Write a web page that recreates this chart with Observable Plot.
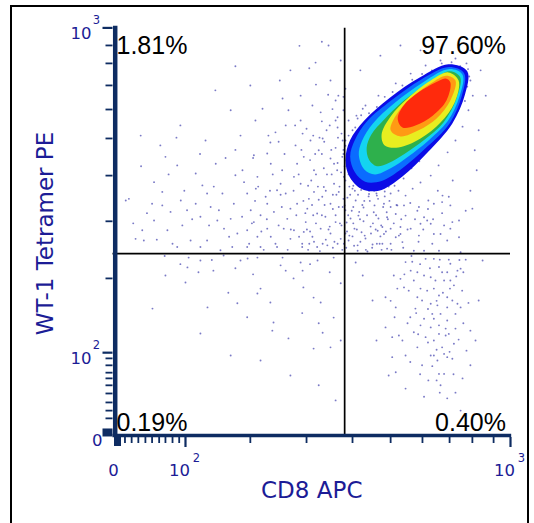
<!DOCTYPE html>
<html><head><meta charset="utf-8">
<script src="https://cdn.jsdelivr.net/npm/d3@7"></script>
<script src="https://cdn.jsdelivr.net/npm/@observablehq/plot@0.6"></script>
<style>
body{margin:0;background:#fff;}
#wrap{position:relative;width:534px;height:523px;overflow:hidden;}
#frame{position:absolute;left:10px;top:5px;width:515px;height:560px;border:2px solid #000;}
#chart{position:absolute;left:0;top:0;}
</style></head><body>
<div id="wrap"><div id="frame"></div><div id="chart"></div></div>
<script>
// All positions are display channels (0..1000) of the logicle-scaled axes.
const quadrantText = ["1.81%", "97.60%", "0.19%", "0.40%"];
const gateXch = 578;
const gateYch = 446;
const xMinorTicks = [19,36,53,71,88,106,122,140,157,338,481,598,695,776,845,903,957];
const xMajorTicks = [173, 1000];
const xMajorExp = ["2", "3"];
const yMinorTicks = [42,61,81,103,123,140,154,172,189,385,525,637,728,799,858,912,956];
const yMajorTicks = [203, 999];
const yMajorExp = ["2", "3"];
const zeroLabel = "0";
const xTitle = "CD8 APC";
const yTitle = "WT-1 Tetramer PE";

// density contour levels of the main population (outer -> inner)
const levelPolygons = [
 [[890,893],[884,835],[852,765],[790,695],[725,635],[665,600],[620,605],[590,635],[580,676],[592,724],[628,772],[693,828],[770,878],[842,910]],
 [[882,888],[876,832],[845,765],[785,705],[725,655],[672,624],[630,622],[604,645],[592,684],[604,724],[635,770],[698,822],[772,872],[843,903]],
 [[878,884],[870,830],[840,770],[790,722],[740,684],[695,655],[655,640],[628,652],[614,688],[622,722],[650,765],[705,815],[778,866],[845,898]],
 [[872,878],[862,825],[830,768],[780,724],[730,690],[690,668],[660,660],[640,676],[634,705],[646,738],[678,774],[725,818],[790,862],[845,893]],
 [[868,870],[858,816],[822,767],[771,728],[715,706],[680,711],[672,738],[695,782],[738,826],[797,870],[842,890]],
 [[860,870],[847,821],[812,777],[766,748],[720,733],[695,748],[708,784],[746,826],[797,863],[837,882]],
 [[847,865],[837,821],[802,784],[758,760],[725,755],[713,777],[728,809],[766,841],[809,865],[835,875]]
];
const levelColors = ["#0c0ce6", "#0a6cff", "#14d4f0", "#2eb04c", "#e8ee20", "#ff9a14", "#ff2a0c"];

// sparse events outside the dense core
const events = [
[181,436],[211,429],[178,412],[122,392],[173,375],[229,314],[89,311],[211,250],[282,350],[305,324],[356,348],[364,360],[389,326],[397,277],[394,257],[435,238],[448,385],[471,404],[473,363],[499,338],[517,326],[512,275],[522,252],[550,289],[568,373],[568,233],[499,213],[542,216],[466,424],[509,429],[550,436],[415,417],[428,404],[331,434],[356,436],[270,441],[313,429],[206,400],[244,404],[364,184],[512,123],[555,86],[440,147],[288,196],
[120,440],[160,420],[240,430],[300,410],[345,395],[420,436],[490,420],[540,400],[470,300],[330,290],
[733,425],[750,426],[784,433],[805,433],[820,431],[843,431],[847,421],[873,409],[886,431],[818,413],[826,400],[839,400],[865,404],[763,400],[746,404],[780,392],[797,388],[809,380],[831,380],[847,380],[856,368],[877,355],[754,380],[720,384],[703,392],[729,363],[741,355],[771,360],[788,355],[805,360],[818,343],[839,339],[852,331],[865,323],[873,314],[763,339],[775,331],[797,323],[814,319],[839,314],[758,311],[708,314],[682,339],[801,298],[822,298],[860,298],[780,286],[805,286],[839,282],[771,270],[797,265],[818,270],[835,262],[860,262],[843,249],[818,249],[754,253],[716,245],[699,241],[725,233],[784,241],[805,233],[835,245],[826,216],[856,225],[763,216],[733,196],[797,196],[831,200],[839,192],[814,184],[852,188],[775,172],[801,170],[831,151],[818,151],[708,155],[690,147],[805,196],[682,265],[699,192],
[822,123],[860,105],[791,135],[878,140],[839,91],[733,115],[898,172],[888,208],[898,257],[649,331],[624,392],[606,424],[659,233],[873,61],[919,331],[929,429],[911,233],
[745,290],[760,300],[790,310],[812,330],[828,350],[846,360],[862,390],[880,400],[870,430],[795,410],[770,420],[748,440],[730,395],[712,360],[695,330],[705,290],[738,275],[765,248],[790,228],[812,210],[845,205],[868,235],[855,150],[812,135],[770,150],[745,180],[880,275],[893,325],[820,105],[780,95],
[678,568],[695,560],[712,564],[729,564],[767,560],[805,568],[826,572],[847,564],[903,556],[686,535],[708,543],[733,539],[780,535],[788,527],[771,519],[674,511],[695,507],[720,511],[746,507],[797,519],[831,515],[852,523],[869,527],[678,494],[708,486],[720,494],[767,490],[805,494],[822,494],[847,507],[869,486],[695,470],[725,474],[754,453],[780,453],[801,470],[839,478],[873,449],[818,453],[674,470],[686,458],
[583,674],[590,645],[598,605],[585,583],[606,576],[596,551],[613,539],[583,522],[603,507],[621,498],[588,478],[611,466],[631,483],[644,512],[626,559],[639,586],[654,564],[664,532],[649,468],[669,488],[616,610],[634,615],[580,625],[593,699],[580,723],[598,748],[588,772],[608,784],[624,801],[575,797],[659,593],[680,586],[695,593],[715,600],[611,453],[636,451],[598,488],[626,525],[652,547],[578,564],[593,532],[662,502],[685,547],[733,588],[751,605],[771,620],[797,637],[817,662],[840,694],[860,723],[878,757],[893,797],[904,833],[898,870],[888,912],[860,924],[822,919],[784,907],[746,887],[708,863],[664,833],[631,809],[611,777],[909,699],[919,748],[914,650],[898,600],[886,551],[853,625],[827,588],[791,576],[763,551],
[669,931],[720,956],[618,895],[771,944],[898,944],[924,895],[937,833],
[582,460],[590,490],[600,520],[615,548],[628,575],[640,600],[600,560],[612,590],[625,625],[590,610],[605,650],[620,700],[640,740],[650,520],[660,470],[672,455],[618,475],[632,455],[645,495],[658,540],
[584,500],[587,540],[592,590],[596,630],[602,465],[604,600],[609,505],[617,530],[620,640],[623,565],[629,490],[635,540],[638,625],[642,575],[648,460],[653,600],[657,505],[663,580],[667,470],[671,515],[676,560],[683,500],[688,530],[692,575],[697,455],[703,520],[710,565],[716,490],[722,530],[727,460],[738,505],[745,570],[757,530],[766,475],[778,505],[790,555],[803,530],[815,600],[826,545],[843,585],
[895,880],[890,855],[884,820],[865,795],[850,770],[828,740],[810,722],[790,700],[768,672],[748,655],[728,630],[705,612],[680,598],[660,588],[640,592],[620,602],[600,612],[588,640],[578,660],[575,690],[580,710],[588,735],[605,755],[620,785],[640,790],[660,805],[680,830],[700,842],[725,858],[750,872],[775,886],[800,895],[825,912],[850,915],[872,905],[892,898],[612,700],[600,660],[640,610],[690,610],
[21,576],[29,580],[93,621],[114,597],[88,568],[46,482],[67,478],[63,503],[93,527],[114,564],[135,548],[122,683],[152,662],[161,576],[165,515],[186,478],[199,642],[199,568],[216,613],[211,536],[228,593],[233,515],[228,478],[250,666],[258,552],[254,527],[271,507],[284,487],[292,462],[288,531],[300,638],[296,568],[317,536],[322,621],[330,593],[339,552],[347,523],[356,487],[364,462],[377,585],[381,507],[390,487],[398,548],[406,601],[419,650],[428,593],[432,531],[440,482],[449,503],[457,568],[466,617],[470,462],[479,523],[487,580],[496,487],[500,650],[508,544],[517,507],[525,609],[534,466],[542,568],[551,666],[555,523],[563,597],[568,482],[576,634],[580,552],[572,683],[542,679],[474,683],[381,691],[347,687],[415,617],[449,634],[483,556],[508,462],[406,462],[330,462],[305,495],[262,454],[211,462],[152,462],[127,503],[177,552],[237,560],[267,593],[356,634],[390,666],[457,666],[521,585],[551,617],[580,495],[559,650],[364,540],[423,507],[462,487],[500,597],[529,536],[563,560],[542,495],[440,556],[474,499],[381,568],[330,503],
[40,520],[75,545],[100,480],[140,470],[170,600],[190,530],[210,690],[245,610],[130,640],[60,660],[150,730],[275,680],
[470,470],[485,455],[500,475],[515,452],[530,480],[548,460],[560,470],[572,455],[490,500],[505,520],[520,540],[540,512],[555,540],[570,515],[478,545],[495,565],[512,578],[530,600],[548,590],[565,610],[575,580],[485,612],[505,640],[525,655],[545,640],[560,668],[575,700],[520,690],[490,675],[555,705],[570,740],[540,760],[520,770],[560,780],[575,830],
[335,470],[342,520],[350,575],[358,610],[366,500],[372,455],[380,530],[388,600],[395,640],[402,470],[410,515],[418,560],[425,690],[433,455],[441,505],[448,600],[455,540],[461,640],[468,700],[473,575],[482,505],[488,470],[493,625],[498,540],[503,690],[510,610],[514,730],[522,470],[527,565],[533,640],[537,505],[544,700],[548,555],[552,475],[557,590],[561,730],[566,520],[569,645],[573,560],[576,470],[471,740],[452,760],[410,720],[384,735],[345,680],[318,650],[300,700],[352,605],[415,590],[498,735],[526,720],[560,755],[547,800],[536,835],[505,860],[488,900],[413,870],[463,955],[520,965],[300,905],
[369,801],[466,833],[517,792],[428,760],[313,735],[224,723],[542,870],[504,914],[562,833],[532,748],[491,723],[453,711],[389,718],[351,772],[288,797],[160,760],[109,711],[59,735],[555,772],[573,723],[512,699],[466,772],[420,826],[338,858],[568,919],[537,956],[440,895],[249,846],[555,821],[496,809],[580,850],[481,752],[522,728],[435,797],[402,743]
];

const NAVY = "#0e2c62";
const BLUE = "#1c1c96";
const SANS = "DejaVu Sans, Verdana, sans-serif";
const ARIAL = "Liberation Sans, Arial, sans-serif";
const xMin = -11.45, yMin = -4.9;

const blobMarks = levelPolygons.map((p, i) => Plot.line(p, {
  x: d => d[0], y: d => d[1], fill: levelColors[i], stroke: "none", curve: "catmull-rom-closed"
}));

const chart = Plot.plot({
  width: 534, height: 523,
  marginLeft: 112.5, marginRight: 24, marginTop: 27, marginBottom: 86,
  x: {domain: [xMin, 1000]},
  y: {domain: [yMin, 1000]},
  style: {background: "transparent", overflow: "visible"},
  marks: [
    Plot.dot(events, {x: d => d[0], y: d => d[1], r: 0.95, fill: "#4242ae", fillOpacity: 0.7, stroke: "none"}),
    ...blobMarks,
    Plot.ruleX([gateXch], {y1: yMin, y2: 998, stroke: "#000", strokeWidth: 1.7}),
    Plot.ruleY([gateYch], {x1: xMin, x2: 1000, stroke: "#000", strokeWidth: 1.7}),
    Plot.ruleX([xMin], {y1: yMin, y2: 1003, dx: 2.2, stroke: NAVY, strokeWidth: 4.5}),
    Plot.ruleY([0], {x1: xMin, x2: 1003, stroke: NAVY, strokeWidth: 3.5}),
    Plot.axisY({ticks: yMinorTicks, anchor: "left", tickSize: 7, tickFormat: () => "", stroke: NAVY, strokeWidth: 1.8, label: null}),
    Plot.axisY({ticks: yMajorTicks, anchor: "left", tickSize: 10, tickFormat: () => "", stroke: NAVY, strokeWidth: 2.2, label: null}),
    Plot.axisY({ticks: [7.4], anchor: "left", tickSize: 10, tickFormat: () => "", stroke: NAVY, strokeWidth: 8, label: null}),
    Plot.axisX({ticks: xMinorTicks, anchor: "bottom", tickSize: 6, tickFormat: () => "", stroke: NAVY, strokeWidth: 1.8, label: null}),
    Plot.axisX({ticks: xMajorTicks, anchor: "bottom", tickSize: 10, tickFormat: () => "", stroke: NAVY, strokeWidth: 2.2, label: null}),
    Plot.axisX({ticks: [0], anchor: "bottom", tickSize: 9, tickFormat: () => "", stroke: NAVY, strokeWidth: 7, label: null}),
    Plot.text(yMajorTicks, {y: d => d, frameAnchor: "left", text: () => "10", textAnchor: "end", lineAnchor: "middle", dx: -21.5, dy: 6, fill: BLUE, fontSize: 16.5, fontFamily: SANS}),
    Plot.text(yMajorTicks, {y: d => d, frameAnchor: "left", text: (d, i) => yMajorExp[i], textAnchor: "end", lineAnchor: "middle", dx: -13, dy: -7.5, fill: BLUE, fontSize: 11.5, fontFamily: SANS}),
    Plot.text([0], {y: d => d, frameAnchor: "left", text: () => zeroLabel, textAnchor: "end", lineAnchor: "middle", dx: -10.5, dy: 5, fill: BLUE, fontSize: 16.5, fontFamily: SANS}),
    Plot.text(xMajorTicks, {x: d => d, frameAnchor: "bottom", text: () => "10", textAnchor: "middle", lineAnchor: "middle", dx: -6, dy: 33, fill: BLUE, fontSize: 16.5, fontFamily: SANS}),
    Plot.text(xMajorTicks, {x: d => d, frameAnchor: "bottom", text: (d, i) => xMajorExp[i], textAnchor: "middle", lineAnchor: "middle", dx: 11, dy: 20.5, fill: BLUE, fontSize: 11.5, fontFamily: SANS}),
    Plot.text([0], {x: d => d, frameAnchor: "bottom", text: () => zeroLabel, textAnchor: "middle", lineAnchor: "middle", dx: -4, dy: 33, fill: BLUE, fontSize: 16.5, fontFamily: SANS}),
    Plot.text([yTitle], {text: d => d, frameAnchor: "left", rotate: -90, textAnchor: "middle", lineAnchor: "middle", dx: -67, dy: 1, fill: BLUE, fontSize: 23, fontFamily: SANS}),
    Plot.text([xTitle], {text: d => d, frameAnchor: "bottom", textAnchor: "middle", lineAnchor: "middle", dy: 53, fill: BLUE, fontSize: 23, fontFamily: SANS}),
    Plot.text([quadrantText[0]], {text: d => d, frameAnchor: "top-left", textAnchor: "start", lineAnchor: "bottom", dx: 3.5, dy: 26, fill: "#000", fontSize: 25, fontFamily: ARIAL}),
    Plot.text([quadrantText[1]], {text: d => d, frameAnchor: "top-right", textAnchor: "end", lineAnchor: "bottom", dx: -4.5, dy: 26, fill: "#000", fontSize: 25, fontFamily: ARIAL}),
    Plot.text([quadrantText[2]], {text: d => d, frameAnchor: "bottom-left", textAnchor: "start", lineAnchor: "bottom", dx: 3.5, dy: -7, fill: "#000", fontSize: 25, fontFamily: ARIAL}),
    Plot.text([quadrantText[3]], {text: d => d, frameAnchor: "bottom-right", textAnchor: "end", lineAnchor: "bottom", dx: -4.5, dy: -7, fill: "#000", fontSize: 25, fontFamily: ARIAL})
  ]
});
document.getElementById("chart").appendChild(chart);
</script>
</body></html>
